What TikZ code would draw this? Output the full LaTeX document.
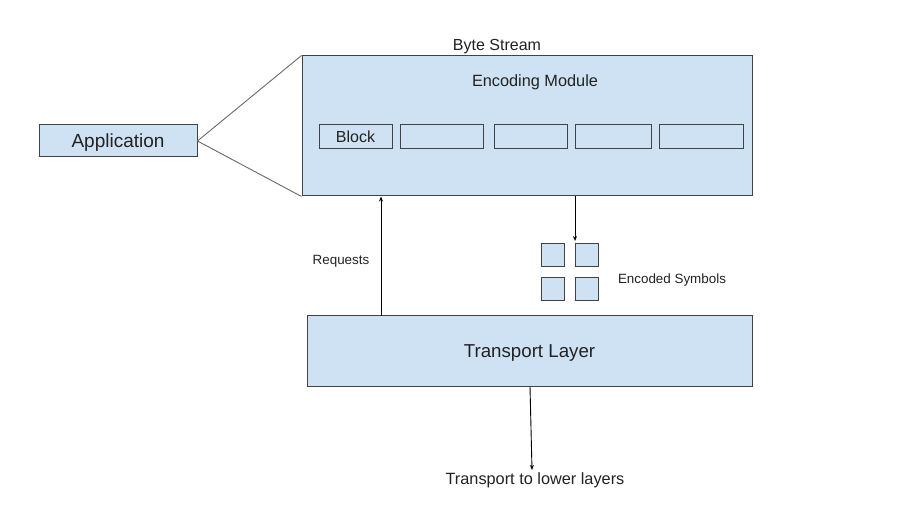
\documentclass[tikz,border=0pt]{standalone}
\usepackage{fontspec}
\setmainfont{Liberation Sans}
\usetikzlibrary{arrows.meta}
\definecolor{boxfill}{HTML}{CFE2F3}
\definecolor{boxline}{HTML}{434343}
\definecolor{txt}{HTML}{222222}

\begin{document}
\begin{tikzpicture}[x=1pt, y=-1pt, shorten >=0pt,
    box/.style={draw=boxline, fill=boxfill, line width=1pt, inner sep=0pt, text=txt, text depth=0pt},
    lbl/.style={text=txt, inner sep=0pt, text depth=0pt},
    arr/.style={-{Stealth[length=5pt,width=4pt]}, line width=0.9pt}]

   \useasboundingbox (0,0) rectangle (922,505);

   % main boxes
   \node [box, minimum width=158, minimum height=32, font=\fontsize{19}{22}\selectfont]
      (app) at (118,141) {Application};
   \node [box, minimum width=450, minimum height=140]
      (enc) at (527,126) {};
   \node [box, minimum width=445, minimum height=70, font=\fontsize{18.7}{22}\selectfont]
      (tl) at (529.5,351) {Transport Layer};

   % blocks inside the encoding module
   \foreach [count=\i] \x/\w/\t in {355.5/73/Block, 441.5/83/, 530.5/73/, 613/76/, 701/84/}
     \node [box, minimum width=\w, minimum height=24, font=\fontsize{16}{19}\selectfont]
        (b\i) at (\x,137) {\t};

   % encoded symbols
   \foreach [count=\i] \x/\y in {552.5/255.5, 586.5/255.5, 552.5/289.5, 586.5/289.5}
     \node [box, minimum size=23] (s\i) at (\x,\y) {};

   % labels
   \node [lbl, font=\fontsize{16}{19}\selectfont] (bytes) at (497,45) {Byte Stream};
   \node [lbl, font=\fontsize{16.3}{19}\selectfont] (encname) at (535,81) {Encoding Module};
   \node [lbl, font=\fontsize{13.4}{16}\selectfont] (req) at (341,260) {Requests};
   \node [lbl, font=\fontsize{13.4}{16}\selectfont] (encsym) at (672,279) {Encoded Symbols};
   \node [lbl, font=\fontsize{16.3}{19}\selectfont] (lower) at (535,479) {Transport to lower layers};

   \coordinate (rq) at (381,316);
   \coordinate (sym) at (575,241);
   \coordinate (lowtip) at (532,470);

   % connectors
   \draw [boxline!80, line width=0.9pt] (enc.north west) -- (app.east) -- (enc.south west);
   \draw [arr] (rq) -- (rq |- enc.south);
   \draw [arr] (sym |- enc.south) -- (sym);
   \draw [arr] (tl.south -| 530,0) -- (lowtip);

\end{tikzpicture}
\end{document}
